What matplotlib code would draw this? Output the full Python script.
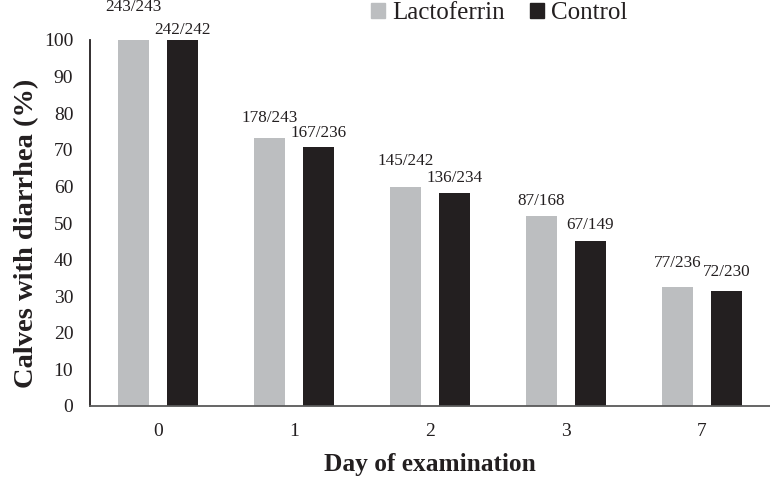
import numpy as np
import matplotlib
matplotlib.use("Agg")
import matplotlib.pyplot as plt
from matplotlib.patches import Patch

plt.rcParams['font.family'] = ['Liberation Serif', 'DejaVu Serif']

# Data
days = ['0', '1', '2', '3', '7']
lacto_pct = [100.0, 73.3, 59.9, 51.8, 32.6]
control_pct = [100.0, 70.8, 58.1, 45.0, 31.3]
lacto_labels = ['243/243', '178/243', '145/242', '87/168', '77/236']
control_labels = ['242/242', '167/236', '136/234', '67/149', '72/230']

# Layout: label heights above bar tops (pixels)
lacto_dy = [33, 20, 26, 15, 24]
control_dy = [10, 14, 15, 16, 19]

gray = '#BCBEC0'
dark = '#231F20'

fig = plt.figure(figsize=(7.7, 4.78), dpi=100)
ax = fig.add_axes([90 / 770, 72 / 478, 680 / 770, 366 / 478])

x = np.arange(len(days))
w = 0.228
off = 0.18
b1 = ax.bar(x - off, lacto_pct, w, color=gray, label='Lactoferrin')
b2 = ax.bar(x + off, control_pct, w, color=dark, label='Control')

for bars, labels, dys in [(b1, lacto_labels, lacto_dy), (b2, control_labels, control_dy)]:
    for rect, lab, dy in zip(bars, labels, dys):
        ax.annotate(lab, (rect.get_x() + rect.get_width() / 2, rect.get_height()),
                    xytext=(0, dy), textcoords='offset pixels',
                    ha='center', va='center', fontsize=12.3, color=dark,
                    annotation_clip=False)

ax.set_xlim(-0.5, 4.5)
ax.set_ylim(0, 100)
ax.set_yticks(np.arange(0, 101, 10))
ax.set_xticks(x)
ax.set_xticklabels(days)
ax.tick_params(axis='both', length=0, labelsize=14, colors=dark)
ax.tick_params(axis='y', pad=12)
ax.tick_params(axis='x', pad=12)

for s in ['top', 'right']:
    ax.spines[s].set_visible(False)
ax.spines['left'].set_color(dark)
ax.spines['bottom'].set_color('#595959')
ax.spines['left'].set_linewidth(1.3)
ax.spines['bottom'].set_linewidth(1.3)

fig.text(27 / 770, 1 - 233 / 478, 'Calves with diarrhea (%)', rotation=90,
         ha='center', va='center', fontsize=20.5, fontweight='bold', color=dark)
fig.text(430 / 770, 1 - 465 / 478, 'Day of examination',
         ha='center', va='center', fontsize=18.3, fontweight='bold', color=dark)

handles = [Patch(color=gray), Patch(color=dark)]
fig.legend(handles, ['Lactoferrin', 'Control'], loc='center left',
           bbox_to_anchor=(371 / 770, 1 - 13 / 478), ncol=2, frameon=False,
           prop={'family': 'Liberation Serif', 'size': 18},
           handlelength=0.55, handleheight=0.55,
           handletextpad=0.3, columnspacing=1.0, borderpad=0, borderaxespad=0,
           labelcolor=dark)

fig.savefig('out.png', dpi=100)
